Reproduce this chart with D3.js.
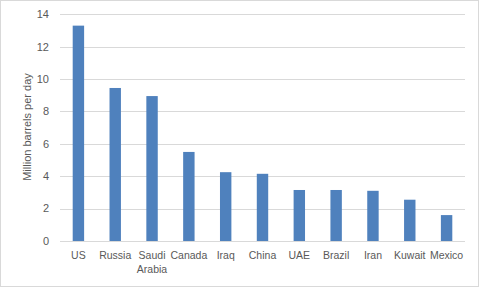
<!DOCTYPE html>
<html>
<head>
<meta charset="utf-8">
<script src="https://cdn.jsdelivr.net/npm/d3@7"></script>
<style>
  body { margin: 0; background: #fff; }
  text { font-family: "Liberation Sans", Arial, sans-serif; fill: #595959; }
</style>
</head>
<body>
<div id="chart"></div>
<script>
const countries = ['US', 'Russia', 'Saudi Arabia', 'Canada', 'Iraq', 'China', 'UAE', 'Brazil', 'Iran', 'Kuwait', 'Mexico'];
const production = [13.3, 9.45, 8.95, 5.5, 4.25, 4.15, 3.15, 3.15, 3.1, 2.55, 1.6];
const yTicks = [0, 2, 4, 6, 8, 10, 12, 14];

const W = 480, H = 288;
const margin = { left: 60, right: 15, top: 14.3, bottom: 47 };

const svg = d3.select('#chart').append('svg')
  .attr('width', W).attr('height', H);

// chart area border
svg.append('rect')
  .attr('x', 0.5).attr('y', 0.5)
  .attr('width', W - 2).attr('height', H - 2)
  .attr('fill', '#fff').attr('stroke', '#d9d9d9');

const x = d3.scaleBand()
  .domain(countries)
  .range([margin.left, W - margin.right])
  .paddingInner(0.69)
  .paddingOuter(0.345);

const y = d3.scaleLinear()
  .domain([0, 14])
  .range([H - margin.bottom, margin.top]);

// gridlines
svg.append('g')
  .selectAll('line')
  .data(yTicks)
  .enter().append('line')
  .attr('x1', margin.left).attr('x2', W - margin.right)
  .attr('y1', d => Math.round(y(d)) + 0.5)
  .attr('y2', d => Math.round(y(d)) + 0.5)
  .attr('stroke', '#d9d9d9').attr('stroke-width', 1);

// bars
svg.append('g')
  .selectAll('rect')
  .data(countries)
  .enter().append('rect')
  .attr('x', d => x(d))
  .attr('width', x.bandwidth())
  .attr('y', (d, i) => y(production[i]))
  .attr('height', (d, i) => y(0) - y(production[i]))
  .attr('fill', '#4f81bd');

// y tick labels
svg.append('g')
  .selectAll('text')
  .data(yTicks)
  .enter().append('text')
  .attr('x', 49)
  .attr('y', d => y(d))
  .attr('dy', '0.35em')
  .attr('text-anchor', 'end')
  .attr('font-size', 11)
  .text(d => d);

// category labels (wrap "Saudi Arabia")
const labels = svg.append('g')
  .selectAll('text')
  .data(countries)
  .enter().append('text')
  .attr('text-anchor', 'middle')
  .attr('font-size', 10.5)
  .attr('y', 259);

labels.each(function(d) {
  const t = d3.select(this);
  const cx = x(d) + x.bandwidth() / 2;
  const words = d === 'Saudi Arabia' ? ['Saudi', 'Arabia'] : [d];
  words.forEach((w, i) => {
    t.append('tspan')
      .attr('x', cx)
      .attr('dy', i === 0 ? 0 : 14)
      .text(w);
  });
});

// y axis title
svg.append('text')
  .attr('transform', 'translate(31,127) rotate(-90)')
  .attr('text-anchor', 'middle')
  .attr('font-size', 11)
  .text('Million barrels per day');
</script>
</body>
</html>
